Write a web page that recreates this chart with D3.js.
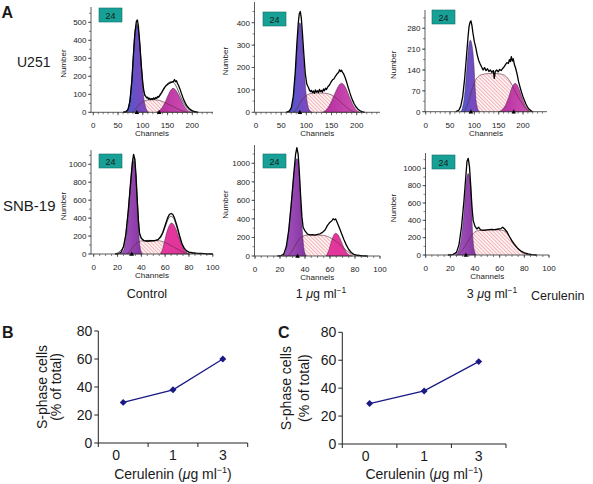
<!DOCTYPE html>
<html><head><meta charset="utf-8">
<script src="https://cdn.jsdelivr.net/npm/d3@7"></script>
<style>
body{margin:0;background:#fff}
svg{display:block}
text{font-family:"Liberation Sans",Arial,Helvetica,sans-serif;fill:#1a1a1a}
</style>
</head><body>
<svg id="c" width="593" height="484"></svg>
<script>
// ---------------- DATA ----------------
const u251TickX = [0, 50, 100, 150, 200];
const snbTickX = [0, 20, 40, 60, 80, 100];
const u251CtrlTickY = [0, 100, 200, 300, 400, 500];
const u251Dose1TickY = [0, 100, 200, 300, 400];
const u251Dose3TickY = [0, 70, 140, 210, 280];
const snbTickY = [0, 200, 400, 600, 800, 1000];

// U251 control
const u251CtrlObs = [[60,0],[66,3],[70,15],[74,60],[78,180],[81,320],[84,440],[87,505],[89,513],[91,480],[94,380],[97,260],[100,160],[102,120],[104,95],[106,88],[108,80],[110,84],[112,72],[114,78],[116,70],[118,76],[120,72],[122,80],[124,74],[126,82],[128,78],[130,88],[132,84],[135,98],[138,110],[141,125],[144,138],[147,148],[150,155],[153,160],[156,165],[159,168],[162,172],[164,182],[166,170],[168,175],[170,160],[172,150],[175,130],[178,105],[181,82],[184,62],[187,45],[190,32],[194,20],[198,12],[202,6],[206,3],[212,0]];
const u251CtrlFit = [[60,0],[70,15],[78,180],[84,440],[88,490],[92,440],[97,260],[102,120],[108,80],[120,72],[130,80],[138,105],[145,140],[152,165],[158,170],[164,160],[170,130],[176,90],[182,55],[188,30],[194,14],[200,5],[206,0]];
const u251CtrlG1 = [[64,0],[68,8],[72,40],[76,120],[80,260],[83,390],[86,465],[88,482],[90,470],[93,400],[96,290],[99,170],[102,80],[105,35],[108,12],[112,0]];
const u251CtrlS = [[78,0],[85,18],[92,40],[100,58],[108,67],[118,70],[128,69],[138,62],[148,50],[158,36],[168,22],[178,10],[186,3],[190,0]];
const u251CtrlG2 = [[128,0],[134,10],[140,30],[146,62],[152,100],[157,125],[161,133],[165,128],[170,108],[176,75],[182,42],[188,18],[194,5],[200,0]];
const u251CtrlMarks = [88, 133];

// U251 1 ug/ml
const u251Dose1Obs = [[60,0],[66,5],[70,20],[74,70],[78,180],[81,300],[84,400],[86,440],[88,450],[90,420],[92,360],[95,260],[98,170],[101,125],[104,112],[106,100],[108,92],[110,98],[112,88],[114,95],[116,85],[118,100],[120,90],[122,96],[124,88],[126,102],[128,92],[130,98],[132,90],[134,104],[136,96],[138,108],[140,102],[143,115],[146,122],[149,135],[152,145],[155,150],[158,162],[161,172],[164,178],[166,190],[168,182],[170,188],[172,178],[174,172],[177,155],[180,135],[183,112],[186,90],[189,70],[192,52],[195,38],[198,26],[202,15],[206,8],[210,3],[216,0]];
const u251Dose1G1 = [[65,0],[70,15],[74,60],[78,170],[82,310],[85,385],[87,400],[89,390],[92,320],[95,220],[98,120],[101,55],[104,20],[108,5],[112,0]];
const u251Dose1S = [[75,0],[82,20],[90,50],[98,72],[106,82],[116,86],[128,86],[140,84],[150,78],[158,66],[166,50],[174,34],[182,18],[190,7],[197,0]];
const u251Dose1G2 = [[132,0],[140,12],[148,40],[155,75],[161,105],[166,124],[170,130],[174,124],[179,105],[185,72],[191,40],[197,16],[203,4],[208,0]];
const u251Dose1Marks = [87];

// U251 3 ug/ml
const u251Dose3Obs = [[62,0],[68,5],[72,18],[76,50],[80,110],[84,190],[87,250],[89,285],[91,300],[93,305],[95,290],[97,265],[100,235],[103,215],[106,190],[109,172],[112,160],[115,150],[118,140],[121,148],[124,138],[127,144],[130,135],[133,140],[136,132],[139,138],[141,112],[143,135],[146,140],[149,134],[152,142],[155,138],[158,145],[161,150],[164,158],[167,165],[170,162],[172,175],[174,168],[176,185],[178,170],[180,178],[182,160],[185,145],[188,125],[191,100],[194,82],[197,65],[200,50],[203,38],[206,26],[209,16],[212,9],[216,4],[220,0]];
const u251Dose3G1 = [[72,0],[76,15],[80,55],[84,130],[87,195],[90,235],[92,240],[95,225],[97,200],[99,160],[101,100],[103,45],[106,15],[110,0]];
const u251Dose3S = [[78,0],[84,15],[90,45],[96,80],[102,105],[108,118],[116,125],[130,128],[145,128],[158,125],[166,117],[174,100],[182,75],[190,50],[198,28],[206,10],[214,0]];
const u251Dose3G2 = [[150,0],[158,8],[165,25],[171,50],[176,75],[181,92],[184,95],[188,90],[192,75],[197,52],[202,30],[207,13],[212,4],[218,0]];
const u251Dose3Marks = [93, 181];

// SNB-19 control
const snbCtrlObs = [[18,0],[21,5],[23,20],[25,80],[27,220],[29,480],[31,800],[32.5,1020],[33.5,1110],[34.5,1060],[35.5,880],[36.5,620],[37.5,380],[38.5,230],[40,175],[42,150],[45,145],[48,148],[51,150],[54,160],[56,190],[58,240],[60,320],[62,400],[63.5,440],[65,452],[66.5,440],[68,395],[70,310],[72,210],[74,120],[76,65],[78,35],[80,22],[83,14],[86,10],[90,6],[95,2],[100,0]];
const snbCtrlFit = [[18,0],[25,80],[29,480],[31,800],[33,1060],[34,1080],[35,960],[36.5,620],[38.5,230],[40,170],[45,140],[51,145],[56,180],[60,300],[63,400],[65,420],[67,400],[70,290],[73,150],[76,60],[80,18],[85,5],[90,0]];
const snbCtrlG1 = [[22,0],[25,40],[27,150],[29,400],[31,760],[32.5,980],[33.5,1040],[34.5,990],[35.5,820],[36.5,560],[37.5,300],[38.5,120],[39.5,40],[41,0]];
const snbCtrlS = [[28,0],[31,40],[34,95],[37,130],[41,148],[46,152],[52,150],[56,145],[60,128],[64,102],[68,72],[72,42],[76,16],[80,0]];
const snbCtrlG2 = [[56,0],[58,60],[60,170],[62,270],[64,330],[65.5,345],[67,330],[69,280],[71,205],[73,130],[75,70],[77,30],[79,8],[81,0]];
const snbCtrlMarks = [32];

// SNB-19 1 ug/ml
const snbDose1Obs = [[18,0],[21,5],[23,20],[25,100],[27,280],[29,560],[31,880],[32.5,1100],[33.5,1170],[34.5,1100],[35.5,900],[36.5,650],[37.5,430],[38.5,310],[40,270],[42,235],[44,228],[46,230],[48,225],[50,232],[52,240],[54,255],[56,280],[58,330],[60,365],[61.5,380],[62.5,402],[63.5,390],[64.5,400],[65.5,370],[67,320],[69,250],[71,180],[73,120],[75,70],[77,38],[79,18],[82,8],[86,2],[90,0]];
const snbDose1G1 = [[22,0],[24,30],[26,150],[28,420],[30,720],[31.5,930],[32.5,1030],[33.5,1050],[34.5,1000],[35.5,850],[36.5,600],[37.5,350],[38.5,160],[39.5,50],[41,0]];
const snbDose1S = [[26,0],[29,40],[32,110],[35,175],[38,212],[42,226],[50,226],[55,222],[59,205],[63,175],[67,135],[71,85],[75,40],[79,12],[83,0]];
const snbDose1G2 = [[57,0],[59,60],[61,150],[63,225],[64.5,245],[66,235],[68,190],[70,125],[72,65],[74,25],[76,6],[78,0]];
const snbDose1Marks = [34];

// SNB-19 3 ug/ml
const snbDose3Obs = [[18,0],[22,5],[25,30],[27,120],[29,320],[31,620],[32.5,900],[33.5,1080],[34.5,1115],[35.5,1020],[36.5,800],[37.5,560],[38.5,400],[40,330],[41.5,300],[43,320],[44.5,290],[47,285],[50,290],[53,295],[56,292],[59,300],[61,305],[62.5,320],[64,300],[66,265],[68,210],[70,160],[72,120],[74,85],[76,58],[78,38],[80,24],[83,12],[86,5],[90,0]];
const snbDose3G1 = [[24,0],[26,30],[28,120],[30,320],[31.5,560],[32.5,760],[33.5,900],[34.5,940],[35.5,900],[36.5,780],[37.3,560],[37.8,320],[38.5,150],[39.5,50],[41,0]];
const snbDose3S = [[26,0],[30,60],[34,150],[38,240],[42,280],[50,290],[58,290],[63,282],[66,250],[69,190],[72,130],[75,80],[78,40],[81,12],[85,0]];
const snbDose3G2 = [];
const snbDose3Marks = [32.6];

// Panels B and C
const doseLabels = ["0", "1", "3"];
const sPhaseU251 = [29, 38, 60];
const sPhaseSNB = [29, 38, 59];
const pctTicks = [0, 20, 40, 60, 80];

// ---------------- LAYOUT ----------------
const svg = d3.select("#c");
const defs = svg.append("defs");

const hatch = defs.append("pattern").attr("id","hatch").attr("patternUnits","userSpaceOnUse")
  .attr("width",2.6).attr("height",2.6).attr("patternTransform","rotate(-45)");
hatch.append("rect").attr("width",2.6).attr("height",2.6).attr("fill","#fff2f2");
hatch.append("line").attr("x1",0).attr("y1",0).attr("x2",0).attr("y2",2.6).attr("stroke","#e2707c").attr("stroke-width",0.9);

function grad(id, c1, c2){
  const g = defs.append("linearGradient").attr("id",id).attr("x1","0").attr("x2","1").attr("y1","0").attr("y2","0");
  g.append("stop").attr("offset","0").attr("stop-color",c1);
  g.append("stop").attr("offset","1").attr("stop-color",c2);
}
grad("u251g1","#4b5bd2","#8d42b6");
grad("u251g2","#b52c9e","#d154b6");
grad("snbg1","#a457c2","#86339f");
grad("snbg2","#e5399f","#e0329a");

const panels = [
 {obs:u251CtrlObs, fit:u251CtrlFit, g1:u251CtrlG1, s:u251CtrlS, g2:u251CtrlG2, marks:u251CtrlMarks, tx:u251TickX, ty:u251CtrlTickY, minorX:10, type:"u251",
  xd:[0,200], xr:[93.3,192.3], xEnd:213, yAx:91, yd:[0,500], yr:[112.3,22.3], yTop:7, box:[99,8], numX:63},
 {obs:u251Dose1Obs, fit:null, g1:u251Dose1G1, s:u251Dose1S, g2:u251Dose1G2, marks:u251Dose1Marks, tx:u251TickX, ty:u251Dose1TickY, minorX:10, type:"u251",
  xd:[0,200], xr:[256,356.7], xEnd:380, yAx:254.5, yd:[0,400], yr:[112.3,22.7], yTop:2, box:[263,12], numX:225},
 {obs:u251Dose3Obs, fit:null, g1:u251Dose3G1, s:u251Dose3S, g2:u251Dose3G2, marks:u251Dose3Marks, tx:u251TickX, ty:u251Dose3TickY, minorX:10, type:"u251",
  xd:[0,200], xr:[425.7,523], xEnd:547, yAx:425, yd:[0,280], yr:[111.7,28.3], yTop:10, box:[432,10], numX:393},
 {obs:snbCtrlObs, fit:snbCtrlFit, g1:snbCtrlG1, s:snbCtrlS, g2:snbCtrlG2, marks:snbCtrlMarks, tx:snbTickX, ty:snbTickY, minorX:5, type:"snb",
  xd:[0,100], xr:[93.7,212.8], xEnd:213, yAx:91, yd:[0,1000], yr:[254,164.3], yTop:150, box:[99,154], numX:63},
 {obs:snbDose1Obs, fit:null, g1:snbDose1G1, s:snbDose1S, g2:snbDose1G2, marks:snbDose1Marks, tx:snbTickX, ty:snbTickY, minorX:5, type:"snb",
  xd:[0,100], xr:[255,380], xEnd:380, yAx:254.5, yd:[0,1000], yr:[256,163.3], yTop:145, box:[263,154], numX:225},
 {obs:snbDose3Obs, fit:null, g1:snbDose3G1, s:snbDose3S, g2:snbDose3G2, marks:snbDose3Marks, tx:snbTickX, ty:snbTickY, minorX:5, type:"snb",
  xd:[0,100], xr:[425.7,549], xEnd:549, yAx:425.5, yd:[0,1000], yr:[255,168.3], yTop:153, box:[432,155], numX:393}
];

panels.forEach(p => {
  const g = svg.append("g");
  const x = d3.scaleLinear().domain(p.xd).range(p.xr);
  const y = d3.scaleLinear().domain(p.yd).range(p.yr);
  const y0 = y(0);
  const area = d3.area().x(d=>x(d[0])).y0(y0).y1(d=>y(d[1])).curve(d3.curveMonotoneX);
  const line = d3.line().x(d=>x(d[0])).y(d=>y(d[1])).curve(d3.curveMonotoneX);
  const rawLine = d3.line().x(d=>x(d[0])).y(d=>y(d[1])).curve(d3.curveLinear);

  g.append("path").datum(p.s).attr("d",area).attr("fill","url(#hatch)");
  g.append("path").datum(p.g1).attr("d",area).attr("fill", p.type==="u251"?"url(#u251g1)":"url(#snbg1)")
    .attr("stroke","#3b2456").attr("stroke-width",0.5);
  if (p.g2.length) g.append("path").datum(p.g2).attr("d",area).attr("fill", p.type==="u251"?"url(#u251g2)":"url(#snbg2)")
    .attr("stroke","#4a1c40").attr("stroke-width",0.5);
  g.append("path").datum(p.s).attr("d",line).attr("fill","none").attr("stroke","#5a2a3a").attr("stroke-width",0.6);
  if (p.fit) g.append("path").datum(p.fit).attr("d",line).attr("fill","none").attr("stroke","#333").attr("stroke-width",0.8);
  g.append("path").datum(p.obs).attr("d",rawLine).attr("fill","none").attr("stroke","#000").attr("stroke-width",1.3).attr("stroke-linejoin","round");

  g.append("line").attr("x1",p.yAx).attr("x2",p.xEnd).attr("y1",y0).attr("y2",y0).attr("stroke","#333").attr("stroke-width",0.8);
  g.append("line").attr("x1",p.yAx).attr("x2",p.yAx).attr("y1",y0).attr("y2",p.yTop).attr("stroke","#333").attr("stroke-width",0.8);

  const xMax = x.invert(p.xEnd);
  const minor = d3.range(0, xMax+0.01, p.minorX);
  g.selectAll(null).data(minor).enter().append("line")
    .attr("x1",d=>x(d)).attr("x2",d=>x(d)).attr("y1",y0).attr("y2",y0+2).attr("stroke","#333").attr("stroke-width",0.6);
  g.selectAll(null).data(p.tx).enter().append("line")
    .attr("x1",d=>x(d)).attr("x2",d=>x(d)).attr("y1",y0).attr("y2",y0+3).attr("stroke","#333").attr("stroke-width",0.7);
  g.selectAll(null).data(p.tx).enter().append("text")
    .attr("x",d=>x(d)).attr("y",y0+16).attr("text-anchor","middle").attr("font-size",8).text(d=>d);

  const step = p.ty[1]-p.ty[0];
  const yMax = y.invert(p.yTop);
  const yMinor = d3.range(0, yMax, step/2);
  g.selectAll(null).data(yMinor).enter().append("line")
    .attr("x1",p.yAx-2).attr("x2",p.yAx).attr("y1",d=>y(d)).attr("y2",d=>y(d)).attr("stroke","#333").attr("stroke-width",0.6);
  g.selectAll(null).data(p.ty).enter().append("line")
    .attr("x1",p.yAx-3).attr("x2",p.yAx).attr("y1",d=>y(d)).attr("y2",d=>y(d)).attr("stroke","#333").attr("stroke-width",0.7);
  g.selectAll(null).data(p.ty).enter().append("text")
    .attr("x",p.yAx-4.5).attr("y",d=>y(d)+2.8).attr("text-anchor","end").attr("font-size",8).text(d=>d);

  g.selectAll(null).data(p.marks).enter().append("path")
    .attr("d",d=>`M${x(d)},${y0-2.5}L${x(d)+2.2},${y0+1.8}L${x(d)-2.2},${y0+1.8}Z`).attr("fill","#000");

  const midY = (y0 + p.yTop)/2 + 4;
  g.append("text").attr("transform",`translate(${p.numX+3},${midY}) rotate(-90)`).attr("text-anchor","middle").attr("font-size",8).text("Number");
  g.append("text").attr("x",(p.yAx+p.xEnd)/2).attr("y",y0+24).attr("text-anchor","middle").attr("font-size",8).text("Channels");

  g.append("rect").attr("x",p.box[0]).attr("y",p.box[1]).attr("width",23).attr("height",14).attr("fill","#17a096").attr("stroke","#0e6e68").attr("stroke-width",0.6);
  g.append("text").attr("x",p.box[0]+11.5).attr("y",p.box[1]+10.5).attr("text-anchor","middle").attr("font-size",9).text("24");
});

svg.append("text").attr("x",1.5).attr("y",18).attr("font-size",16).attr("font-weight","bold").text("A");
svg.append("text").attr("x",17).attr("y",67).attr("font-size",14).text("U251");
svg.append("text").attr("x",3).attr("y",211).attr("font-size",15).text("SNB-19");
svg.append("text").attr("x",147).attr("y",298).attr("text-anchor","middle").attr("font-size",12.5).text("Control");
function doseLabel(cx, n){
  const t = svg.append("text").attr("x",cx).attr("y",298).attr("text-anchor","middle").attr("font-size",12.5);
  t.append("tspan").text(n+" ");
  t.append("tspan").attr("font-style","italic").text("\u03bc");
  t.append("tspan").text("g ml");
  t.append("tspan").attr("font-size",8.5).attr("dy",-5).text("\u22121");
}
doseLabel(321, "1");
doseLabel(492, "3");
svg.append("text").attr("x",531).attr("y",300).attr("font-size",12.5).text("Cerulenin");

const lineCharts = [
  {label:"B", vals:sPhaseU251, axX:98.3, xEnd:247.7, yr:[443,331], labX:2, t1X:41.7, t2X:55.5, zeroShift:-7},
  {label:"C", vals:sPhaseSNB, axX:342.3, xEnd:506, yr:[444,332.3], labX:278, t2X:303.5, t1X:285.5, zeroShift:-4}
];
lineCharts.forEach(c => {
  const g = svg.append("g");
  const x = d3.scaleBand().domain(doseLabels).range([c.axX, c.xEnd]);
  const y = d3.scaleLinear().domain([0,80]).range(c.yr);
  const y0 = y(0);
  g.append("line").attr("x1",c.axX).attr("x2",c.xEnd).attr("y1",y0).attr("y2",y0).attr("stroke","#222").attr("stroke-width",1);
  g.append("line").attr("x1",c.axX).attr("x2",c.axX).attr("y1",y0).attr("y2",y(80)).attr("stroke","#222").attr("stroke-width",1);
  const bounds = [c.axX].concat(doseLabels.map(d=>x(d)+x.bandwidth()));
  g.selectAll(null).data(bounds).enter().append("line")
    .attr("x1",d=>d).attr("x2",d=>d).attr("y1",y0).attr("y2",y0+4).attr("stroke","#222");
  g.selectAll(null).data(pctTicks).enter().append("line")
    .attr("x1",c.axX-4).attr("x2",c.axX).attr("y1",d=>y(d)).attr("y2",d=>y(d)).attr("stroke","#222");
  g.selectAll(null).data(pctTicks).enter().append("text")
    .attr("x",c.axX-6).attr("y",d=>y(d)+5).attr("text-anchor","end").attr("font-size",14).text(d=>d);
  g.selectAll(null).data(doseLabels).enter().append("text")
    .attr("x",d=>x(d)+x.bandwidth()/2 + (d==="0"?c.zeroShift:0)).attr("y",y0+17).attr("text-anchor","middle").attr("font-size",14).text(d=>d);
  const pts = doseLabels.map((d,i)=>[x(d)+x.bandwidth()/2, y(c.vals[i])]);
  g.append("path").datum(pts).attr("d",d3.line()).attr("fill","none").attr("stroke","#1a1a86").attr("stroke-width",1.3);
  g.selectAll(null).data(pts).enter().append("path")
    .attr("d",d3.symbol(d3.symbolSquare,24)).attr("transform",d=>`translate(${d[0]},${d[1]}) rotate(45)`).attr("fill","#1a1a86");
  const cy = (y0 + y(80))/2;
  g.append("text").attr("transform",`translate(${c.t1X+5},${cy}) rotate(-90)`).attr("text-anchor","middle").attr("font-size",14).text("S-phase cells");
  g.append("text").attr("transform",`translate(${c.t2X+5},${cy}) rotate(-90)`).attr("text-anchor","middle").attr("font-size",14).text("(% of total)");
  const t = g.append("text").attr("x",(c.axX+c.xEnd)/2).attr("y",479).attr("text-anchor","middle").attr("font-size",14);
  t.append("tspan").text("Cerulenin (");
  t.append("tspan").attr("font-style","italic").text("\u03bc");
  t.append("tspan").text("g ml");
  t.append("tspan").attr("font-size",9).attr("dy",-6).text("\u22121");
  t.append("tspan").attr("dy",6).text(")");
  g.append("text").attr("x",c.labX).attr("y",338).attr("font-size",16).attr("font-weight","bold").text(c.label);
});
</script>
</body></html>
